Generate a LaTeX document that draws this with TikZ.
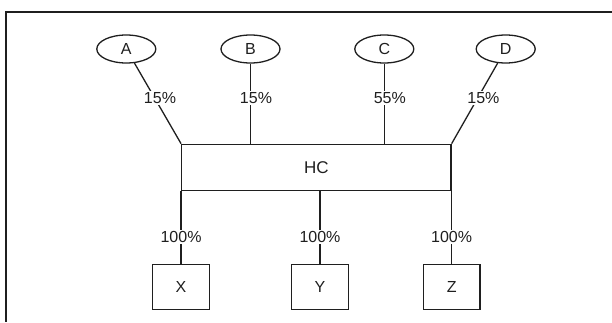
\documentclass[tikz,border=0pt]{standalone}
\usepackage{fontspec}
\setmainfont{Liberation Sans}
\usetikzlibrary{shapes.geometric}
\begin{document}
\begin{tikzpicture}[x=1pt,y=-1pt,
  color=black!88, line width=1.3pt,
  txt/.style={font=\fontsize{16}{18}\selectfont},
  holder/.style={ellipse, draw, txt, minimum width=59pt, minimum height=28pt, inner sep=0pt},
  firm/.style={rectangle, draw, txt, minimum width=56.5pt, minimum height=45.5pt, inner sep=0pt},
  hub/.style={rectangle, draw, txt, font=\fontsize{17}{19}\selectfont, minimum width=269.3pt, minimum height=46pt, inner sep=0pt},
  pct/.style={txt, fill=white, inner sep=1.5pt},
  toppct/.style={pct, pos=0.43, xshift=5.5pt},
  botpct/.style={pct, pos=0.63}]
  \useasboundingbox (0,0) rectangle (612,322);

  % outer frame (top and left edges)
  \draw[line width=1.7pt] (612,12) -- (6,12) -- (6,322);

  % holding company
  \node[hub] (HC) at (316.35,167.3) {HC};

  % shareholders
  \node[holder] (A) at (126.3,49) {A};
  \node[holder] (B) at (250.5,49) {B};
  \node[holder] (C) at (384.3,49) {C};
  \node[holder] (D) at (505.7,49) {D};

  % subsidiaries
  \node[firm] (X) at (HC.south west |- 0,287) {X};
  \node[firm] (Y) at (320,287) {Y};
  \node[firm] (Z) at (HC.south east |- 0,287) {Z};

  % ownership links above the hub
  \draw (A) -- (HC.north west) node[toppct] {15\%};
  \draw (B) -- (B |- HC.north) node[toppct] {15\%};
  \draw (C) -- (C |- HC.north) node[toppct] {55\%};
  \draw (D) -- (HC.north east) node[toppct] {15\%};

  % ownership links below the hub
  \draw (HC.south west) -- (X) node[botpct] {100\%};
  \draw (Y |- HC.south) -- (Y) node[botpct] {100\%};
  \draw (HC.south east) -- (Z) node[botpct] {100\%};
\end{tikzpicture}
\end{document}
